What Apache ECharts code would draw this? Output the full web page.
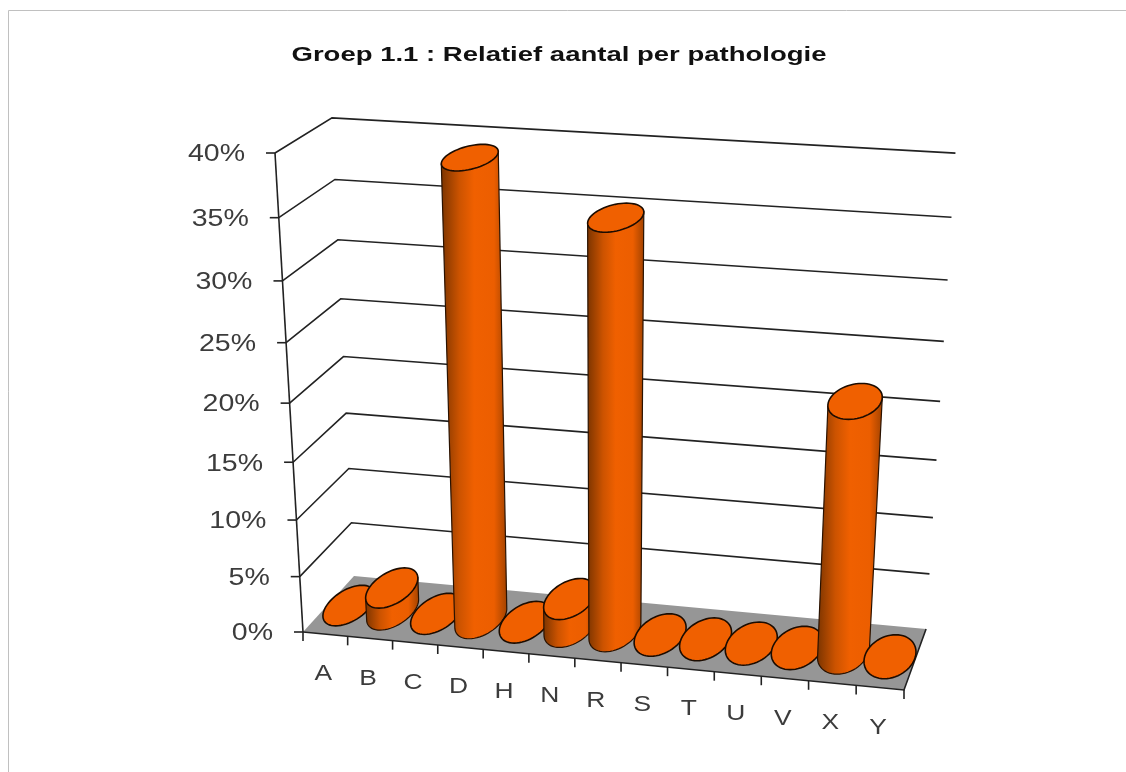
<!DOCTYPE html>
<html>
<head>
<meta charset="utf-8">
<script src="https://cdn.jsdelivr.net/npm/echarts@6/dist/echarts.min.js"></script>
<style>
html, body { margin: 0; padding: 0; background: #fff; }
#show { width: 1126px; height: 772px; }
</style>
</head>
<body>
<div id="show"></div>
<script>
var chartTitle = 'Groep 1.1 : Relatief aantal per pathologie';
var categories = ['A', 'B', 'C', 'D', 'H', 'N', 'R', 'S', 'T', 'U', 'V', 'X', 'Y'];
var percent = [0, 2, 0, 39, 0, 2.5, 35, 0, 0, 0, 0, 21.6, 0];
var yTicks = [0, 5, 10, 15, 20, 25, 30, 35, 40];

var myChart = echarts.init(document.getElementById('show'));

// cube corners on screen + perspective weights, solved from the reference
var O = [303, 632], PX = [904, 690], PY = [275, 153], PZ = [354, 576];
var wx = 0.9634, wy = 0.915, wz = 1.052;

function project(u, v, d) {
    var w = 1 + u * (wx - 1) + v * (wy - 1) + d * (wz - 1);
    var hx = O[0] + u * (wx * PX[0] - O[0]) + v * (wy * PY[0] - O[0]) + d * (wz * PZ[0] - O[0]);
    var hy = O[1] + u * (wx * PX[1] - O[1]) + v * (wy * PY[1] - O[1]) + d * (wz * PZ[1] - O[1]);
    // small correction, the right end of the gridlines sits a bit higher in the reference
    return [hx / w, hy / w - 4.5 * u * v];
}

// flat grid pixel -> unit cube position
function unit(params, api, cat, val) {
    var p = api.coord([cat, val]);
    var r = params.coordSys;
    return [(p[0] - r.x) / r.width, (r.y + r.height - p[1]) / r.height];
}

var ink = '#222';
var labelColor = '#3c3c3c';
var lineW = 1.6;

function renderFloor(params, api) {
    var a = project(0, 0, 0), b = project(1, 0, 0), c = project(1, 0, 1), d = project(0, 0, 1);
    var t = project(0, 1, 0);
    return {
        type: 'group',
        children: [
            { type: 'polygon', shape: { points: [a, b, c, d] }, style: { fill: '#969696' } },
            { type: 'polyline', shape: { points: [a, b, c] }, style: { fill: null, stroke: ink, lineWidth: lineW } },
            { type: 'line', shape: { x1: a[0], y1: a[1], x2: t[0], y2: t[1] }, style: { stroke: ink, lineWidth: lineW } }
        ]
    };
}

function renderGrid(params, api) {
    var val = api.value(1);
    var v = unit(params, api, 0, val)[1];
    var a = project(0, v, 0), b = project(0, v, 1), c = project(1, v, 1);
    var children = [
        { type: 'line', shape: { x1: a[0] - 9, y1: a[1], x2: a[0], y2: a[1] }, style: { stroke: ink, lineWidth: lineW } },
        {
            type: 'text', x: a[0] - 30, y: a[1] + 2, scaleX: 1.24,
            style: { text: yTicks[params.dataIndex] + '%', align: 'right', verticalAlign: 'middle', fontFamily: 'Liberation Sans', fontSize: 23, fill: labelColor }
        }
    ];
    if (val > 0) {
        children.push({ type: 'polyline', shape: { points: [a, b, c] }, style: { fill: null, stroke: ink, lineWidth: lineW } });
    }
    return { type: 'group', children: children };
}

function renderCategory(params, api) {
    var i = api.value(0);
    var t0 = project(i / categories.length, 0, 0);
    var uc = unit(params, api, i, 0)[0];
    var mid = project(uc, 0, 0);
    var children = [
        { type: 'text', x: mid[0] - 2, y: mid[1] + 40, scaleX: 1.2,
          style: { text: categories[i], align: 'center', verticalAlign: 'middle', fontFamily: 'Liberation Sans', fontSize: 22, fill: labelColor } },
        { type: 'line', shape: { x1: t0[0], y1: t0[1], x2: t0[0], y2: t0[1] + 9 }, style: { stroke: ink, lineWidth: lineW } }
    ];
    if (i === categories.length - 1) {
        var t1 = project(1, 0, 0);
        children.push({ type: 'line', shape: { x1: t1[0], y1: t1[1], x2: t1[0], y2: t1[1] + 9 }, style: { stroke: ink, lineWidth: lineW } });
    }
    return { type: 'group', children: children };
}

// screen x travelled across the floor depth at this position
function depthPx(uc) {
    return project(uc, 0, 1)[0] - project(uc, 0, 0)[0];
}

// the reference's left discs lean less than a true projected circle
function leanFix(uc) {
    return 0.15 * (1 - uc);
}

function circle(uc, v, ru, rd) {
    var pts = [], lean = leanFix(uc) * rd * depthPx(uc);
    for (var k = 0; k < 60; k++) {
        var t = k / 60 * Math.PI * 2;
        var p = project(uc + ru * Math.cos(t), v, 0.5 + rd * Math.sin(t));
        pts.push([p[0] - lean * Math.sin(t), p[1]]);
    }
    return pts;
}

function extremes(pts) {
    var l = 0, r = 0;
    pts.forEach(function (p, k) {
        if (p[0] < pts[l][0]) l = k;
        if (p[0] > pts[r][0]) r = k;
    });
    return [l, r];
}

// half width along x so every base comes out about 26px wide on screen, like the reference
function radiusU(uc, rd) {
    var slot = 1 / categories.length;
    var slotPx = project(uc + slot / 2, 0, 0.5)[0] - project(uc - slot / 2, 0, 0.5)[0];
    var lean = rd * depthPx(uc) * (1 - leanFix(uc));
    var inner = Math.sqrt(Math.max(26 * 26 - lean * lean, 1));
    return inner / slotPx * slot;
}

function renderCylinder(params, api) {
    var i = api.value(0), val = api.value(1);
    var pos = unit(params, api, i, val);
    var uc = pos[0] - 0.04 / categories.length;
    var rd = 0.36;
    var ru = radiusU(uc, rd);
    var top = circle(uc, pos[1], ru, rd);
    var children = [];
    if (val > 0) {
        var bottom = circle(uc, 0, ru, rd);
        var eb = extremes(bottom), et = extremes(top);
        // pick the front arc of the base between its silhouette points
        var arcA = [], arcB = [], n = bottom.length, k;
        for (k = eb[0]; k !== eb[1]; k = (k + 1) % n) arcA.push(bottom[k]);
        for (k = eb[0]; k !== eb[1]; k = (k - 1 + n) % n) arcB.push(bottom[k]);
        var my = function (a) { return a.reduce(function (s, p) { return s + p[1]; }, 0) / a.length; };
        var arc = my(arcA) > my(arcB) ? arcA : arcB;
        var body = [top[et[0]]].concat(arc, [bottom[eb[1]], top[et[1]]]);
        children.push({
            type: 'polygon', shape: { points: body },
            style: {
                fill: new echarts.graphic.LinearGradient(0, 0, 1, 0, [
                    { offset: 0, color: '#7a3400' },
                    { offset: 0.28, color: '#cc5300' },
                    { offset: 0.5, color: '#f06000' },
                    { offset: 0.8, color: '#ec5e00' },
                    { offset: 1, color: '#a04200' }
                ]),
                stroke: '#2a1200', lineWidth: 1.2
            }
        });
    }
    children.push({ type: 'polygon', shape: { points: top }, style: { fill: '#f06000', stroke: '#1c0c00', lineWidth: 1.6 } });
    return { type: 'group', children: children };
}

var catData = categories.map(function (c, i) { return [c, percent[i]]; });

myChart.setOption({
    animation: false,
    backgroundColor: '#fff',
    grid: { left: 303, top: 153, width: 600, height: 480 },
    xAxis: { type: 'category', data: categories, show: false },
    yAxis: { type: 'value', min: 0, max: 40, interval: 5, show: false },
    graphic: [
        { type: 'line', shape: { x1: 8.5, y1: 10.5, x2: 1126, y2: 10.5 }, style: { stroke: '#c0c0c0', lineWidth: 1 } },
        { type: 'line', shape: { x1: 8.5, y1: 10.5, x2: 8.5, y2: 772 }, style: { stroke: '#c0c0c0', lineWidth: 1 } },
        {
            type: 'text', x: 559, y: 55, scaleX: 1.31,
            style: { text: chartTitle, align: 'center', verticalAlign: 'middle', fontFamily: 'Liberation Sans', fontWeight: 'bold', fontSize: 21, fill: '#111' }
        }
    ],
    series: [
        { type: 'custom', silent: true, data: [[0, 0]], encode: { x: 0, y: 1 }, renderItem: renderFloor },
        { type: 'custom', silent: true, data: yTicks.map(function (t) { return [0, t]; }), encode: { x: 0, y: 1 }, renderItem: renderGrid },
        { type: 'custom', silent: true, data: catData, encode: { x: 0, y: 1 }, renderItem: renderCategory },
        { type: 'custom', silent: true, data: catData, encode: { x: 0, y: 1 }, renderItem: renderCylinder }
    ]
});
</script>
</body>
</html>
